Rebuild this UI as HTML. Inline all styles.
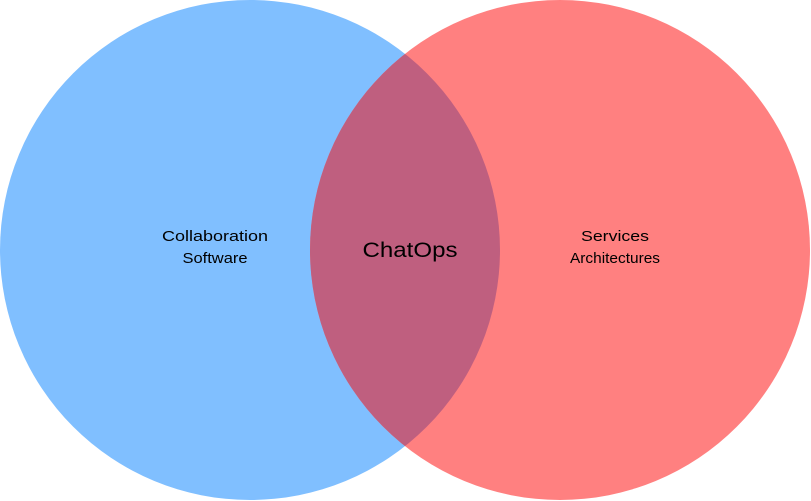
<!DOCTYPE html>
<html><head><style>html,body{margin:0;padding:0;background:#fff;}svg{display:block}</style></head>
<body>
<svg width="811" height="501" viewBox="0 0 811 501" xmlns="http://www.w3.org/2000/svg">
<defs><clipPath id="c"><circle cx="250" cy="250" r="250"/></clipPath></defs>
<circle cx="250" cy="250" r="250" fill="#80bfff"/>
<circle cx="560" cy="250" r="250" fill="#ff8080"/>
<circle cx="560" cy="250" r="250" fill="#bf5f7f" clip-path="url(#c)"/>
<g font-family="Liberation Sans, sans-serif" fill="#000" text-anchor="middle">
<text x="215" y="241" font-size="15" textLength="106" lengthAdjust="spacingAndGlyphs">Collaboration</text>
<text x="215" y="263" font-size="15" textLength="65" lengthAdjust="spacingAndGlyphs">Software</text>
<text x="410" y="257" font-size="21" textLength="95" lengthAdjust="spacingAndGlyphs">ChatOps</text>
<text x="615" y="241" font-size="15" textLength="68" lengthAdjust="spacingAndGlyphs">Services</text>
<text x="615" y="263" font-size="15" textLength="90" lengthAdjust="spacingAndGlyphs">Architectures</text>
</g>
</svg>
</body></html>
